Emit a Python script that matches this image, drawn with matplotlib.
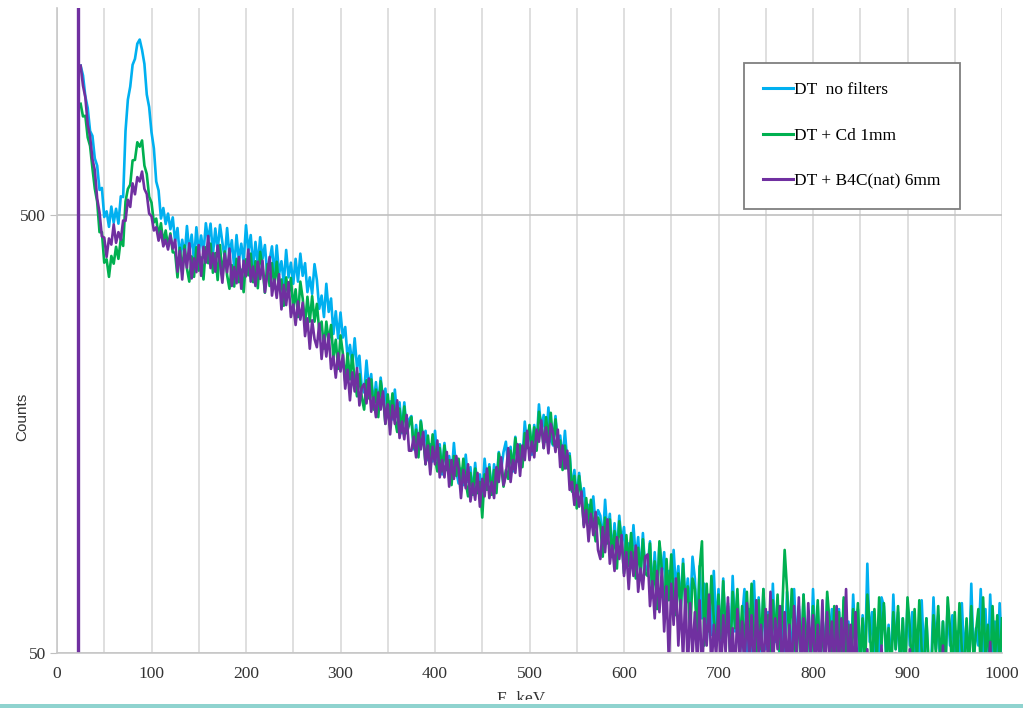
import numpy as np
import matplotlib
matplotlib.use('Agg')
import matplotlib.pyplot as plt
from matplotlib.patches import Rectangle
from matplotlib.ticker import NullLocator

# channel energies, keV (2.5 keV steps)
energy = np.arange(25, 1000.1, 2.5)

no_filters = [
    1100, 1045, 935, 880, 780, 760, 675, 650, 572, 578, 496, 511, 471, 524, 481, 518, 479, 553, 551, 780,   # 25
    920, 985, 1105, 1140, 1235, 1262, 1195, 1110, 945, 885, 775, 712, 598, 570, 492, 520, 478, 505, 465, 495,   # 75
    436, 468, 404, 440, 402, 473, 412, 452, 393, 470, 412, 450, 409, 480, 438, 479, 407, 467, 415, 476,   # 125
    434, 398, 468, 405, 439, 380, 451, 394, 431, 391, 475, 414, 451, 380, 435, 385, 446, 398, 428, 366,   # 175
    394, 425, 364, 427, 367, 393, 350, 417, 361, 390, 349, 398, 353, 409, 364, 389, 334, 361, 331, 387,   # 225
    356, 306, 328, 293, 349, 301, 323, 268, 302, 262, 300, 263, 278, 236, 253, 227, 262, 224, 239, 202,   # 275
    197, 233, 201, 217, 183, 208, 184, 213, 189, 201, 173, 188, 171, 200, 173, 187, 159, 187, 161, 171,   # 325
    174, 146, 166, 147, 170, 151, 161, 138, 150, 137, 161, 138, 150, 128, 151, 131, 141, 126, 151, 130,   # 375
    122, 132, 121, 142, 123, 133, 115, 136, 118, 128, 115, 139, 122, 135, 115, 135, 122, 144, 131, 144,   # 425
    152, 134, 148, 130, 156, 137, 150, 138, 169, 149, 165, 142, 166, 150, 185, 161, 175, 152, 182, 153,   # 475
    149, 174, 149, 157, 138, 161, 136, 143, 117, 131, 113, 129, 113, 119, 101, 109, 99, 114, 98, 106,   # 525
    103, 89, 112, 93, 104, 83, 99, 85, 103, 89, 97, 80, 89, 80, 98, 82, 92, 75, 94, 77,   # 575
    79, 90, 68, 85, 70, 89, 76, 85, 66, 77, 67, 86, 70, 79, 63, 82, 65, 74, 62, 83,   # 625
    74, 56, 79, 60, 72, 53, 67, 55, 77, 57, 70, 50, 74, 54, 65, 51, 75, 56, 68, 48,   # 675
    60, 70, 50, 63, 49, 73, 54, 67, 47, 70, 51, 62, 48, 72, 53, 66, 45, 64, 49, 69,   # 725
    60, 47, 70, 52, 64, 46, 68, 50, 61, 46, 70, 52, 64, 45, 61, 48, 67, 53, 63, 46,   # 775
    52, 63, 45, 66, 49, 59, 46, 68, 52, 63, 44, 61, 48, 80, 53, 62, 46, 57, 47, 67,   # 825
    64, 48, 58, 45, 68, 51, 62, 44, 60, 47, 65, 52, 62, 45, 56, 46, 66, 49, 60, 44,   # 875
    46, 67, 51, 61, 43, 59, 47, 64, 52, 61, 45, 56, 47, 65, 49, 59, 44, 72, 48, 57,   # 925
    52, 70, 48, 63, 45, 68, 50, 59, 46, 65, 49,   # 975
]

cd_1mm = [
    900, 842, 845, 754, 721, 641, 576, 538, 458, 458, 390, 397, 362, 404, 388, 424, 398, 442, 426, 538,   # 25
    575, 588, 668, 670, 735, 718, 742, 650, 622, 552, 535, 482, 492, 448, 480, 432, 462, 425, 455, 412,   # 75
    411, 361, 422, 371, 427, 378, 353, 403, 362, 423, 374, 401, 357, 423, 389, 431, 370, 410, 356, 428,   # 125
    361, 414, 365, 340, 385, 344, 398, 352, 376, 334, 397, 365, 409, 352, 393, 341, 413, 381, 333, 387,   # 175
    345, 389, 343, 392, 341, 357, 311, 361, 327, 360, 307, 339, 293, 353, 323, 282, 326, 286, 327, 286,   # 225
    314, 273, 286, 248, 286, 257, 281, 237, 260, 223, 266, 242, 209, 242, 211, 240, 210, 193, 217, 192,   # 275
    180, 210, 191, 211, 180, 200, 173, 209, 192, 167, 195, 171, 196, 172, 160, 181, 160, 183, 159, 166,   # 325
    173, 147, 162, 140, 169, 155, 135, 157, 138, 158, 139, 130, 147, 130, 149, 131, 138, 121, 141, 127,   # 375
    139, 122, 139, 123, 114, 129, 115, 132, 116, 123, 102, 128, 118, 133, 115, 131, 116, 143, 134, 120,   # 425
    131, 125, 145, 132, 155, 138, 149, 133, 159, 147, 166, 145, 164, 145, 178, 166, 147, 173, 154, 177,   # 475
    150, 171, 148, 153, 131, 149, 132, 141, 117, 127, 107, 127, 114, 98, 113, 99, 112, 98, 90, 102,   # 525
    98, 83, 102, 89, 101, 83, 95, 78, 100, 90, 76, 93, 79, 94, 81, 74, 87, 75, 91, 76,   # 575
    75, 89, 67, 81, 63, 90, 78, 61, 82, 66, 84, 68, 61, 76, 62, 80, 64, 71, 55, 74,   # 625
    70, 52, 78, 90, 52, 72, 56, 75, 60, 52, 68, 54, 73, 56, 64, 48, 69, 57, 70, 51,   # 675
    64, 49, 69, 53, 72, 56, 49, 66, 51, 70, 53, 61, 46, 66, 54, 68, 49, 63, 86, 70,   # 725
    52, 70, 55, 47, 63, 49, 68, 51, 60, 45, 64, 52, 66, 47, 61, 44, 69, 59, 45, 64,   # 775
    47, 62, 49, 67, 50, 58, 44, 63, 51, 65, 47, 60, 45, 68, 58, 45, 63, 48, 67, 52,   # 825
    65, 49, 57, 43, 62, 51, 64, 46, 60, 44, 67, 57, 44, 63, 48, 66, 51, 45, 60, 47,   # 875
    43, 61, 50, 64, 46, 59, 44, 67, 57, 44, 62, 47, 65, 51, 45, 60, 46, 64, 48, 56,   # 925
    63, 46, 67, 49, 58, 45, 64, 48, 61, 46, 60,   # 975
]

b4c_6mm = [
    1100, 990, 931, 807, 758, 673, 635, 547, 508, 448, 445, 402, 443, 429, 477, 433, 458, 440, 487, 486,   # 25
    543, 523, 592, 559, 612, 598, 630, 575, 560, 505, 498, 462, 470, 438, 460, 425, 440, 418, 450, 420,   # 75
    440, 372, 415, 357, 418, 380, 432, 359, 399, 371, 428, 364, 424, 390, 449, 379, 410, 372, 427, 390,   # 125
    351, 409, 371, 420, 345, 381, 350, 402, 340, 394, 363, 418, 353, 382, 345, 392, 358, 394, 334, 366,   # 175
    402, 328, 357, 324, 367, 305, 347, 312, 352, 293, 313, 281, 318, 289, 316, 265, 291, 248, 288, 261,   # 225
    250, 283, 235, 266, 238, 268, 223, 238, 213, 242, 220, 240, 201, 222, 189, 219, 198, 224, 184, 202,   # 275
    206, 186, 212, 178, 192, 173, 197, 180, 198, 167, 185, 158, 184, 167, 189, 155, 169, 154, 175, 145,   # 325
    145, 156, 140, 159, 146, 160, 135, 149, 128, 148, 135, 153, 126, 138, 126, 144, 120, 138, 125, 141,   # 375
    132, 113, 131, 119, 135, 111, 122, 112, 129, 108, 125, 114, 132, 113, 123, 113, 133, 123, 140, 121,   # 425
    127, 147, 123, 138, 129, 150, 127, 149, 138, 161, 138, 152, 140, 162, 152, 170, 147, 164, 143, 167,   # 475
    159, 144, 162, 133, 149, 132, 145, 118, 123, 109, 121, 108, 117, 97, 106, 90, 104, 93, 105, 86,   # 525
    82, 97, 85, 101, 80, 88, 77, 92, 82, 93, 75, 85, 70, 85, 75, 88, 69, 78, 70, 83,   # 575
    84, 64, 73, 60, 77, 62, 78, 56, 71, 47, 72, 58, 74, 52, 66, 48, 70, 45, 65, 49,   # 625
    62, 47, 66, 44, 60, 52, 68, 45, 58, 49, 64, 43, 61, 50, 67, 46, 57, 44, 63, 48,   # 675
    59, 45, 65, 48, 61, 43, 66, 50, 58, 44, 63, 47, 69, 45, 60, 51, 64, 43, 62, 46,   # 725
    58, 44, 64, 49, 67, 45, 60, 43, 65, 50, 61, 44, 58, 47, 66, 43, 62, 48, 59, 45,   # 775
    64, 44, 60, 48, 70, 45, 58, 43, 62, 42, 38, 47, 40, 51, 36, 46, 34, 49, 39, 52,   # 825
    38, 47, 35, 44, 40, 50, 36, 45, 33, 46, 39, 51, 37, 43, 35, 48, 38, 44, 34, 47,   # 875
    40, 49, 36, 45, 38, 52, 35, 44, 39, 47, 34, 46, 41, 50, 36, 43, 38, 48, 35, 45,   # 925
    39, 50, 37, 46, 41, 53, 36, 45, 40, 48, 42,   # 975
]

# saturated channel of the B4C run
spike_energy = [22, 22]
spike_counts = [1, 20000]

serif = 'Liberation Serif'

fig = plt.figure(figsize=(10.23, 7.08), dpi=100)
ax = fig.add_axes([57 / 1023, 1 - 653 / 708, 945 / 1023, 645 / 708])

ax.plot(energy, no_filters, color='#00B0F0', lw=1.9, label='DT  no filters')
ax.plot(energy, cd_1mm, color='#00B050', lw=1.9, label='DT + Cd 1mm')
ax.plot(energy, b4c_6mm, color='#7030A0', lw=1.9, label='DT + B4C(nat) 6mm')
ax.plot(spike_energy, spike_counts, color='#7030A0', lw=2.4)

ax.set_yscale('log')
ax.set_xlim(0, 1000)
ax.set_ylim(50, 1490)
ax.set_yticks([50, 500])
ax.set_yticklabels(['50', '500'])
ax.yaxis.set_minor_locator(NullLocator())
ax.set_xticks(range(0, 1001, 100))
ax.set_xticks(range(50, 1000, 100), minor=True)

ax.grid(axis='x', which='both', color='#D9D9D9', lw=1.2)
ax.grid(axis='y', which='major', color='#C0C0C0', lw=1.2)
ax.set_axisbelow(True)

ax.tick_params(axis='x', which='both', length=0, pad=9, labelsize=12.5)
ax.tick_params(axis='y', which='major', length=5, color='#C0C0C0', pad=3, labelsize=12.5)
for lab in ax.get_xticklabels() + ax.get_yticklabels():
    lab.set_fontfamily(serif)
    lab.set_color('#333333')

for side in ['top', 'right']:
    ax.spines[side].set_visible(False)
for side in ['left', 'bottom']:
    ax.spines[side].set_color('#C8C8C8')
    ax.spines[side].set_linewidth(1.2)

fig.text(22 / 1023, 1 - 417 / 708, 'Counts', rotation=90, ha='center', va='center',
         fontsize=11, family='Liberation Sans', color='#333333')

leg = ax.legend(loc='upper left', bbox_to_anchor=(0.727, 0.915), borderaxespad=0,
                prop={'family': serif, 'size': 12.5}, handlelength=1.7, handletextpad=0.1,
                labelspacing=1.7, borderpad=1.1, fancybox=False, framealpha=1)
leg.get_frame().set_edgecolor('#7F7F7F')
leg.get_frame().set_linewidth(1.3)
for h in leg.get_lines():
    h.set_linewidth(2.2)

fig.text(521 / 1023, 1 - 691 / 708, 'E, keV', ha='center', va='top',
         family=serif, fontsize=12.5, color='#333333')
# screenshot edge: text cut off, teal border
fig.add_artist(Rectangle((0, 4 / 708), 1, 4 / 708, transform=fig.transFigure,
                         facecolor='white', edgecolor='none', zorder=5))
fig.add_artist(Rectangle((0, 0), 1, 4 / 708, transform=fig.transFigure,
                         facecolor='#8FD3CF', edgecolor='none', zorder=6))

fig.savefig('out.png', dpi=100)
